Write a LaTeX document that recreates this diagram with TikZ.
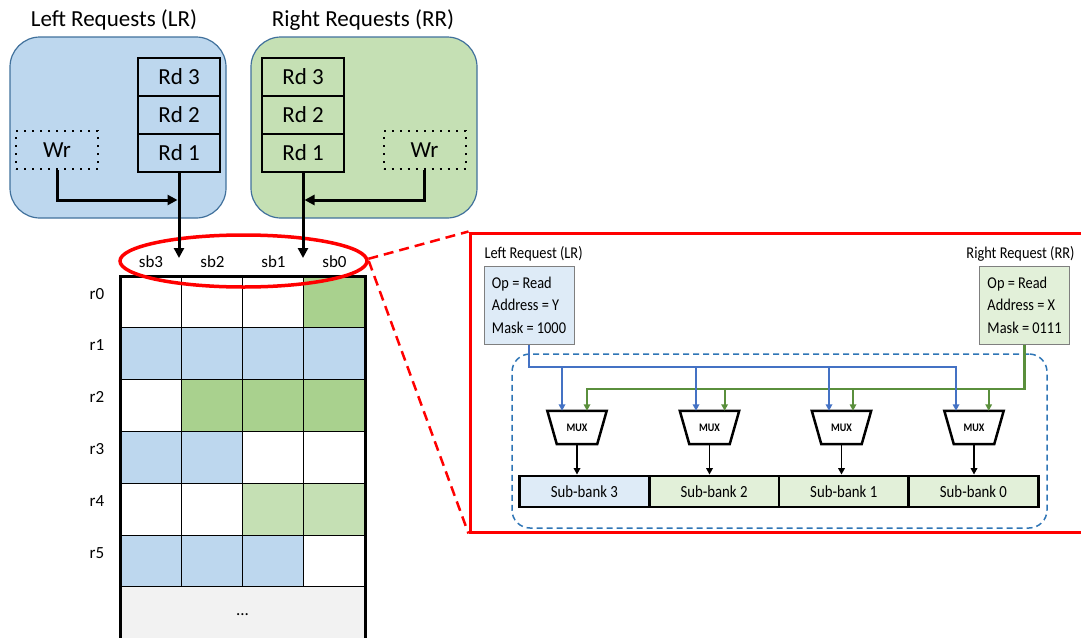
\documentclass[tikz,border=0pt]{standalone}
\usepackage{fontspec}
\setmainfont{Carlito}
\newfontfamily\narrowfont[FakeStretch=0.87]{Carlito}
\usetikzlibrary{shapes.geometric,arrows.meta}

\definecolor{reqblue}{HTML}{BDD7EE}
\definecolor{reqgreen}{HTML}{C5E0B4}
\definecolor{darkcell}{HTML}{A9D18E}
\definecolor{grayrow}{HTML}{F2F2F2}
\definecolor{panelline}{HTML}{41719C}
\definecolor{paleblue}{HTML}{DEEBF7}
\definecolor{palegreen}{HTML}{E2F0D9}
\definecolor{wireblue}{HTML}{4472C4}
\definecolor{wiregreen}{HTML}{5A8F3C}
\definecolor{bankline}{HTML}{2E75B6}
\definecolor{boxgray}{HTML}{7F7F7F}

\begin{document}
\begin{tikzpicture}[x=1pt,y=-1pt,
  bigfont/.style={font=\fontsize{23}{27}\selectfont},
  lblfont/.style={font=\fontsize{17}{20}\selectfont},
  panel/.style={draw=panelline,line width=1.2pt,rounded corners=30pt,
    minimum height=181pt,inner sep=0pt},
  rdcell/.style={draw=black,line width=1.6pt,minimum width=82pt,
    minimum height=38pt,inner sep=0pt,bigfont},
  wrbox/.style={draw=black,line width=2pt,dash pattern=on 2pt off 6pt,
    minimum width=82pt,minimum height=38pt,inner sep=0pt,bigfont},
  bigarrow/.style={line width=3pt,-{Triangle[length=10pt,width=10pt]}},
  cell/.style={draw=black,line width=1pt},
  reqbox/.style={draw=boxgray,line width=1pt,minimum width=90pt,
    minimum height=78pt,align=left,inner sep=0pt,
    font=\narrowfont\fontsize{16.5}{22.5}\selectfont},
  muxbox/.style={minimum width=59pt,minimum height=33pt,inner sep=0pt,
    font=\narrowfont\bfseries\fontsize{11.5}{12}\selectfont},
  bank/.style={draw=black,line width=2.8pt,minimum width=129.7pt,
    minimum height=31pt,inner sep=0pt,
    font=\narrowfont\fontsize{17}{20}\selectfont},
  wireb/.style={draw=wireblue,line width=2.2pt,
    -{Triangle[length=6.5pt,width=6.5pt]}},
  wireg/.style={draw=wiregreen,line width=2.2pt,
    -{Triangle[length=6.5pt,width=6.5pt]}},
  outarrow/.style={draw=black,line width=1.8pt,
    -{Triangle[length=6.5pt,width=6.5pt]}}
]
\useasboundingbox (0,0) rectangle (1081,637);
\clip (0,0) rectangle (1081,637);

% ---- request queues ----
\node[bigfont,anchor=base] (ltitle) at (114,27) {Left Requests (LR)};
\node[bigfont,anchor=base] (rtitle) at (363,27) {Right Requests (RR)};

\node[panel,minimum width=216pt,fill=reqblue] (lpanel) at (118,127.5) {};
\node[panel,minimum width=226pt,fill=reqgreen] (rpanel) at (364,127.5) {};

\node[rdcell,fill=reqblue] (lrd3) at (179,77) {Rd 3};
\node[rdcell,fill=reqblue] (lrd2) at (179,115) {Rd 2};
\node[rdcell,fill=reqblue] (lrd1) at (179,153) {Rd 1};
\node[rdcell,fill=reqgreen] (rrd3) at (303,77) {Rd 3};
\node[rdcell,fill=reqgreen] (rrd2) at (303,115) {Rd 2};
\node[rdcell,fill=reqgreen] (rrd1) at (303,153) {Rd 1};

\node[wrbox] (lwr) at (57,150) {Wr};
\node[wrbox] (rwr) at (424.5,150) {Wr};

% ---- memory array ----
\foreach \cols [count=\r from 0] in {
    {white,white,white,darkcell},
    {reqblue,reqblue,reqblue,reqblue},
    {white,darkcell,darkcell,darkcell},
    {reqblue,reqblue,white,white},
    {white,white,reqgreen,reqgreen},
    {reqblue,reqblue,reqblue,white}}{
  \foreach \c [count=\k from 0] in \cols {
    \draw[cell,fill=\c] ({120+61.25*\k},{276+51.8*\r}) rectangle ++(61.25,51.8);
  }
  \node[lblfont,anchor=base] (row\r) at (97,{299+51.8*\r}) {r\r};
}
\draw[cell,fill=grayrow] (120,586.8) rectangle (365,660);
\node[lblfont,anchor=base] (more) at (242.5,615) {...};
\draw[line width=3pt] (120,276) rectangle (365,660);

\node[lblfont,anchor=base] (c3) at (151,267) {sb3};
\node[lblfont,anchor=base] (c2) at (212.5,267) {sb2};
\node[lblfont,anchor=base] (c1) at (273.5,267) {sb1};
\node[lblfont,anchor=base] (c0) at (334.5,267) {sb0};

\node[ellipse,draw=red,line width=3.5pt,minimum width=247pt,
  minimum height=52pt,inner sep=0pt] (sel) at (243.5,261) {};

% ---- request paths into the array ----
\coordinate (lin) at (179,258);
\coordinate (rin) at (303,258);
\coordinate (ljoin) at (177.5,200);
\coordinate (rjoin) at (304.5,200);
\draw[bigarrow] (lrd1.south) -- (lin);
\draw[bigarrow] (rrd1.south) -- (rin);
\draw[bigarrow] (lwr.south) |- (ljoin);
\draw[bigarrow] (rwr.south) |- (rjoin);

% ---- detail view ----
\node[draw=red,line width=3pt,anchor=north west,minimum width=640pt,
  minimum height=299pt,inner sep=0pt] (zoombox) at (468.5,231.5) {};
\draw[red,line width=2.5pt,dash pattern=on 10pt off 6pt]
  (sel.1) -- (zoombox.north west);
\draw[red,line width=2.5pt,dash pattern=on 10pt off 6pt]
  (sel.-0.5) -- (zoombox.south west);

\node[font=\narrowfont\fontsize{16.5}{20}\selectfont,anchor=base west]
  (lrtitle) at (481,258) {Left Request (LR)};
\node[font=\narrowfont\fontsize{16.5}{20}\selectfont,anchor=base east]
  (rrtitle) at (1078,258) {Right Request (RR)};

\node[reqbox,fill=paleblue] (lrbox) at (529,305)
  {Op = Read\\Address = Y\\Mask = 1000};
\node[reqbox,fill=palegreen] (rrbox) at (1024.5,305)
  {Op = Read\\Address = X\\Mask = 0111};

\node[draw=bankline,line width=1.5pt,dash pattern=on 6pt off 4pt,
  rounded corners=18pt,minimum width=535pt,minimum height=174pt,
  inner sep=0pt] (mem) at (779.5,441) {};

% multiplexers
\foreach \i/\x in {1/577,2/709.5,3/841.5,4/974}{
  \node[muxbox] (mux\i) at (\x,427.5) {MUX};
  \draw[line width=2.5pt,line join=miter]
    (mux\i.north west) -- (mux\i.north east)
    -- ([xshift=-9.5pt]mux\i.south east)
    -- ([xshift=9.5pt]mux\i.south west) -- cycle;
}

% sub-banks
\node[bank,fill=paleblue] (bank3) at (584.35,491.5) {Sub-bank 3};
\node[bank,fill=palegreen] (bank2) at (714.05,491.5) {Sub-bank 2};
\node[bank,fill=palegreen] (bank1) at (843.75,491.5) {Sub-bank 1};
\node[bank,fill=palegreen] (bank0) at (973.45,491.5) {Sub-bank 0};

% right request wiring
\draw[wireg] (rrbox.south) |- (587,389) -- (587,0 |- mux1.north);
\foreach \i/\x in {2/724.6,3/853,4/988.7}
  \draw[wireg] (\x,389) -- (\x,0 |- mux\i.north);

% left request wiring
\draw[wireb] (lrbox.south) |- (956,367) -- (956,0 |- mux4.north);
\foreach \i/\x in {1/562,2/696,3/829}
  \draw[wireb] (\x,367) -- (\x,0 |- mux\i.north);

% multiplexer outputs
\foreach \i/\b in {1/bank3,2/bank2,3/bank1,4/bank0}
  \draw[outarrow] (mux\i.south) -- (mux\i.south |- \b.north);
\end{tikzpicture}
\end{document}
